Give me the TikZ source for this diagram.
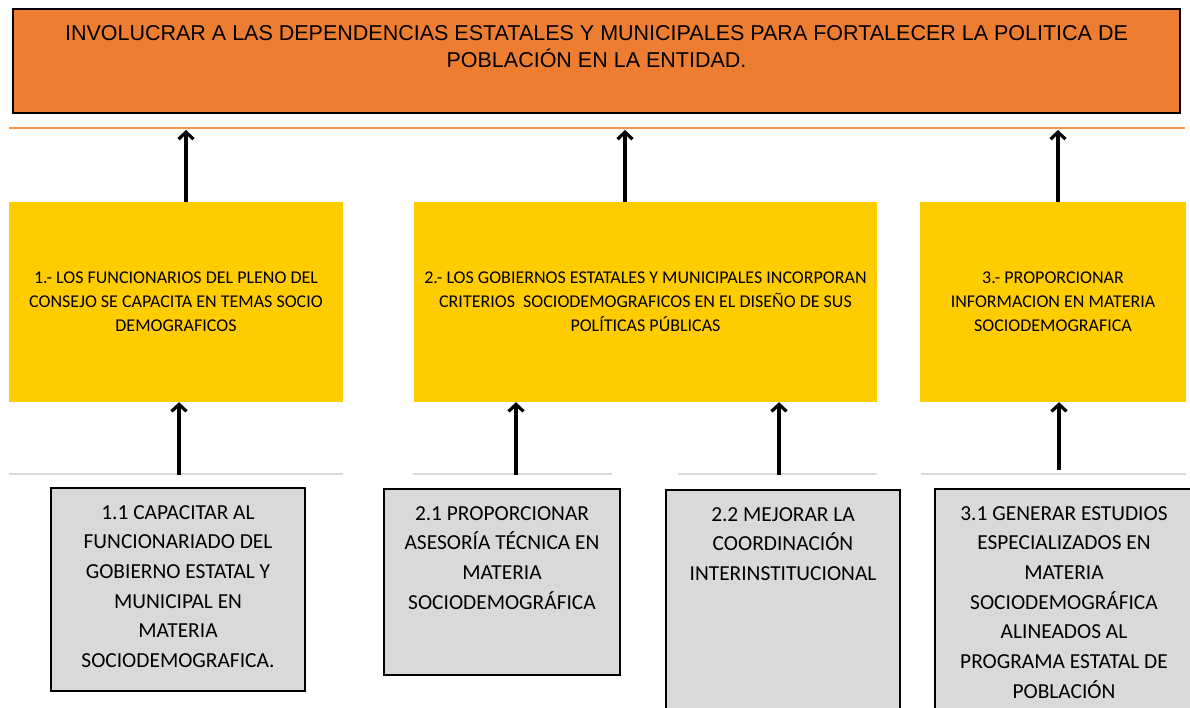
\documentclass[tikz,border=0pt]{standalone}
\usepackage{fontspec}
\setmainfont{Carlito}
\newfontfamily\arialf{Liberation Sans}
\usetikzlibrary{arrows.meta,calc}
\definecolor{orangeF}{HTML}{ED7D31}
\definecolor{yellowF}{HTML}{FFCC00}
\definecolor{grayF}{HTML}{D9D9D9}
\definecolor{orangeL}{HTML}{F79646}
\definecolor{grayL}{HTML}{D9D9D9}
\newcommand{\grtext}[3]{\parbox[t][#2pt][t]{#1pt}{\centering\fontsize{21.4}{29.7}\selectfont\rule{0pt}{31pt}#3}}
\begin{document}
\begin{tikzpicture}[x=1pt,y=-1pt,
  goalbox/.style={draw=black,line width=2.5pt,fill=orangeF,inner sep=0pt,
    minimum width=1167pt,minimum height=104pt},
  goaltext/.style={anchor=north,inner sep=0pt,font=\arialf},
  yelbox/.style={fill=yellowF,inner sep=0pt,minimum height=200pt,align=center,
    font=\fontsize{18}{24}\selectfont},
  grbox/.style={draw=black,line width=2pt,fill=grayF,inner sep=0pt,anchor=north},
  arr/.style={line width=3.2pt,-{Straight Barb[length=7pt,width=15pt]}},
  sepline/.style={line width=1.5pt,draw=grayL},
  orline/.style={line width=1.8pt,draw=orangeL}]
\fill[white] (0,0) rectangle (1190,707);
\useasboundingbox (0,0) rectangle (1190,707);
\clip (0,0) rectangle (1190,707);

% goal
\node[goalbox] (top) at (596.5,60.8) {};
\node[goaltext] (toptext) at (596.5,21) {\parbox[t]{1160pt}{\centering\fontsize{21.5}{27}\selectfont\rule{0pt}{19pt}INVOLUCRAR A LAS DEPENDENCIAS ESTATALES Y MUNICIPALES PARA FORTALECER LA POLITICA DE\\POBLACIÓN EN LA ENTIDAD.}};

% orange line
\coordinate (oL) at (9,128);
\coordinate (oR) at (1185,128);
\draw[orline] (oL) -- (oR);

% yellow boxes
\node[yelbox,minimum width=334pt] (y1) at (176,302) {1.- LOS FUNCIONARIOS DEL PLENO DEL\\CONSEJO SE CAPACITA EN TEMAS SOCIO\\DEMOGRAFICOS};
\node[yelbox,minimum width=463pt] (y2) at (645.5,302) {2.- LOS GOBIERNOS ESTATALES Y MUNICIPALES INCORPORAN\\CRITERIOS\ \ SOCIODEMOGRAFICOS EN EL DISEÑO DE SUS\\POLÍTICAS PÚBLICAS};
\node[yelbox,minimum width=266pt] (y3) at (1053,302) {3.- PROPORCIONAR\\INFORMACION EN MATERIA\\SOCIODEMOGRAFICA};

% gray separator lines
\coordinate (s1L) at (9,474);   \coordinate (s1R) at (343,474);
\coordinate (s2L) at (413,474); \coordinate (s2R) at (612,474);
\coordinate (s3L) at (678,474); \coordinate (s3R) at (877,474);
\coordinate (s4L) at (921,474); \coordinate (s4R) at (1186,474);
\draw[sepline] (s1L) -- (s1R);
\draw[sepline] (s2L) -- (s2R);
\draw[sepline] (s3L) -- (s3R);
\draw[sepline] (s4L) -- (s4R);

% gray boxes
\node[grbox] (g1) at (178,487) {\grtext{254}{203}{1.1 CAPACITAR AL\\FUNCIONARIADO DEL\\GOBIERNO ESTATAL Y\\MUNICIPAL EN\\MATERIA\\SOCIODEMOGRAFICA.}};
\node[grbox] (g2) at (502,488) {\grtext{236}{186}{2.1 PROPORCIONAR\\ASESORÍA TÉCNICA EN\\MATERIA\\SOCIODEMOGRÁFICA}};
\node[grbox] (g3) at (783,489) {\grtext{234}{240}{2.2 MEJORAR LA\\COORDINACIÓN\\INTERINSTITUCIONAL}};
\node[grbox] (g4) at (1064,488) {\grtext{258}{240}{3.1 GENERAR ESTUDIOS\\ESPECIALIZADOS EN\\MATERIA\\SOCIODEMOGRÁFICA\\ALINEADOS AL\\PROGRAMA ESTATAL DE\\POBLACIÓN}};

% arrows yellow -> goal
\draw[arr] ($(y1.north)+(10,0)$) -- ($(y1.north |- oL)+(10,2)$);
\draw[arr] ($(y2.north)+(-20.5,0)$) -- ($(y2.north |- oL)+(-20.5,2)$);
\draw[arr] ($(y3.north)+(5,0)$) -- ($(y3.north |- oL)+(5,2)$);

% arrows gray -> yellow
\draw[arr] ($(g1.north |- s1L)+(1,1)$) -- ($(g1.north |- y1.south)+(1,0)$);
\draw[arr] ($(g2.north |- s2L)+(14,1)$) -- ($(g2.north |- y2.south)+(14,0)$);
\draw[arr] ($(g3.north |- s3L)+(-4,1)$) -- ($(g3.north |- y2.south)+(-4,0)$);
\draw[arr] ($(g4.north |- s4L)+(-5,-4)$) -- ($(g4.north |- y3.south)+(-5,0)$);
\end{tikzpicture}
\end{document}
